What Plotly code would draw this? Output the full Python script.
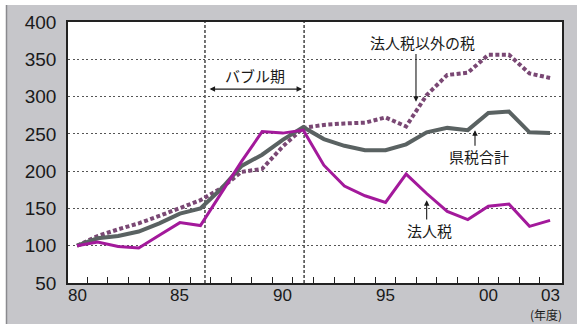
import plotly.graph_objects as go

years = list(range(80, 104))
x_tick_vals = [80, 85, 90, 95, 100, 103]
x_tick_text = ["80", "85", "90", "95", "00", "03"]
y_tick_vals = [50, 100, 150, 200, 250, 300, 350, 400]

corp_tax = [100, 105, 99, 97, 114, 131, 127, 170, 213, 253, 251, 255, 208, 180,
            167, 158, 196, 170, 146, 135, 153, 156, 126, 134]
pref_total = [100, 110, 113, 119, 130, 143, 150, 176, 207, 222, 242, 259, 243, 234,
              228, 228, 236, 252, 258, 255, 278, 280, 252, 251]
non_corp = [100, 113, 122, 130, 140, 150, 161, 177, 199, 203, 233, 258, 262, 264,
            265, 272, 260, 302, 329, 332, 356, 356, 331, 325]

bubble_start, bubble_end = 86.22, 91.04

LAT = "Liberation Sans, Arial, sans-serif"
JP = "Noto Sans CJK JP"
PANEL = "#c6c6ca"

fig = go.Figure()
fig.add_trace(go.Scatter(x=years, y=non_corp, mode="lines",
                         line=dict(color="#7a4874", width=4, dash="4px,2.5px"),
                         name="法人税以外の税"))
fig.add_trace(go.Scatter(x=years, y=pref_total, mode="lines",
                         line=dict(color="#5a6262", width=4), name="県税合計"))
fig.add_trace(go.Scatter(x=years, y=corp_tax, mode="lines",
                         line=dict(color="#a3199b", width=3), name="法人税"))

shapes = []
for xv in (bubble_start, bubble_end):
    shapes.append(dict(type="line", xref="x", yref="paper", x0=xv, x1=xv, y0=0, y1=1,
                       line=dict(color="#444", width=1.5, dash="3px,2px"), layer="below"))
# paper framing: white strips at top and left, dark edge line
shapes.append(dict(type="rect", xref="paper", yref="paper", x0=-0.14, x1=1.04,
                   y0=1.065, y1=1.09, fillcolor="white", line=dict(width=0), layer="above"))
shapes.append(dict(type="rect", xref="paper", yref="paper", x0=-0.14, x1=-0.1255,
                   y0=-0.2, y1=1.09, fillcolor="white", line=dict(width=0), layer="above"))
shapes.append(dict(type="line", xref="paper", yref="paper", x0=-0.1245, x1=-0.1245,
                   y0=-0.2, y1=1.065, line=dict(color="#8a8a8e", width=1.5), layer="above"))

ann = []
def label(x, y, text, size=15):
    ann.append(dict(x=x, y=y, xref="x", yref="y", text=text, showarrow=False,
                    font=dict(family=JP, size=size, color="#1a1a1a")))
def arrow(x, y, ax, ay, both=False):
    d = dict(x=x, y=y, ax=ax, ay=ay, xref="x", yref="y", axref="x", ayref="y",
             text="", showarrow=True, arrowhead=2, arrowsize=1, arrowwidth=1.1,
             arrowcolor="#1a1a1a")
    if both:
        d.update(arrowside="end+start", startarrowhead=2, startarrowsize=1)
    ann.append(d)

label(88.66, 328, "バブル期")
arrow(90.94, 310, 86.37, 310, both=True)
label(96.78, 372, "法人税以外の税")
arrow(96.48, 293, 96.48, 359)
label(99.55, 220, "県税合計")
arrow(99.35, 255, 99.35, 232)
label(97.12, 121, "法人税")
arrow(97.0, 161, 97.0, 133)

# x-axis tick labels placed as annotations for precise vertical position
for v, t in zip(x_tick_vals, x_tick_text):
    ann.append(dict(x=v, y=-0.046, xref="x", yref="paper", text=t, showarrow=False,
                    xanchor="center", yanchor="middle", borderpad=0,
                    font=dict(family=LAT, size=17, color="#1a1a1a")))
ann.append(dict(x=0.968, y=-0.12, xref="paper", yref="paper", text="(年度)", showarrow=False,
                xanchor="center", yanchor="middle", borderpad=0,
                font=dict(family=JP, size=12, color="#1a1a1a")))

fig.update_layout(
    width=577, height=324,
    margin=dict(l=68, r=15, t=22, b=41),
    paper_bgcolor=PANEL, plot_bgcolor="white",
    showlegend=False, shapes=shapes, annotations=ann,
    xaxis=dict(range=[79.56, 103.58], tickmode="array", tickvals=x_tick_vals,
               showticklabels=False, ticks="", showgrid=False, zeroline=False,
               showline=True, mirror=True, linecolor="#222", linewidth=1.5,
               minor=dict(tickmode="array", tickvals=[y + 0.5 for y in years[:-1]],
                          ticks="inside", ticklen=6, tickwidth=1, tickcolor="#222",
                          showgrid=False)),
    yaxis=dict(range=[50, 400], tickmode="array", tickvals=y_tick_vals, ticks="",
               showgrid=True, gridcolor="#555", gridwidth=1.2, griddash="2px,2.5px",
               zeroline=False, showline=True, mirror=True, linecolor="#222", linewidth=1.5,
               ticklabelstandoff=6,
               tickfont=dict(family=LAT, size=19, color="#1a1a1a")),
)

fig.write_html("out.html")
